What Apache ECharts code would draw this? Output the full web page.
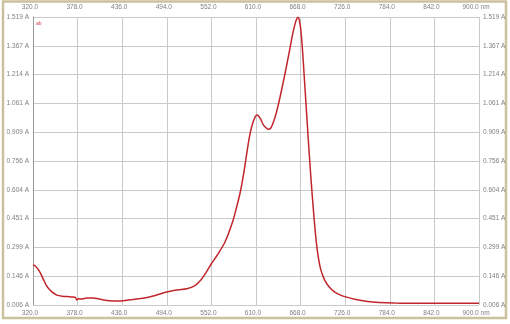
<!DOCTYPE html>
<html><head><meta charset="utf-8">
<script src="https://cdn.jsdelivr.net/npm/echarts@6/dist/echarts.min.js"></script>
<style>html,body{margin:0;padding:0;background:#fff}#c{width:510px;height:324px}</style>
</head><body><div id="c"></div>
<script>
const xLabels = ['320.0','378.0','436.0','494.0','552.0','610.0','668.0','726.0','784.0','842.0','900.0 nm'];
const yLabels = ['0.006 A','0.146 A','0.299 A','0.451 A','0.604 A','0.756 A','0.909 A','1.061 A','1.214 A','1.367 A','1.519 A'];
const wavelength = [320,323,327,330,334,337,340,345,351,358,365,372,375,377,379,383,390,398,405,412,420,430,440,450,460,470,480,490,500,510,520,530,538,545,552,560,570,580,585,590,594,597,600,603,606,609,611,613,616,619,623,626,629,632,636,641,646,650,654,658,661,663,664.5,666,668,670,672,675,678,681,684,687,690,694,699,705,712,720,728,740,755,770,790,810,830,850,870,900];
const absorbance = [0.205,0.200,0.180,0.160,0.125,0.100,0.082,0.062,0.046,0.040,0.038,0.036,0.034,0.020,0.026,0.025,0.031,0.031,0.026,0.020,0.016,0.014,0.017,0.022,0.028,0.035,0.045,0.058,0.068,0.074,0.080,0.095,0.125,0.165,0.212,0.260,0.330,0.440,0.515,0.600,0.690,0.770,0.850,0.915,0.960,0.990,1.000,0.996,0.978,0.952,0.932,0.925,0.930,0.955,1.005,1.090,1.185,1.265,1.350,1.435,1.485,1.510,1.518,1.508,1.460,1.370,1.250,1.060,0.870,0.690,0.530,0.385,0.275,0.185,0.128,0.090,0.063,0.046,0.035,0.022,0.012,0.007,0.004,0.003,0.003,0.003,0.003,0.003];
const xMin = 320, xMax = 900, yMin = -0.0066, yMax = 1.519;

const chart = echarts.init(document.getElementById('c'));
const lab = {fontSize: 6.5, color: '#808080', fontFamily: 'Liberation Sans'};
chart.setOption({
  animation: false,
  grid: {left: 33, right: 31, top: 17, bottom: 19},
  xAxis: [
    {type:'value', position:'bottom', min:0, max:10, interval:1,
     axisLine:{show:false}, axisTick:{show:false},
     splitLine:{show:true, lineStyle:{color:'#cacaca', width:1}},
     axisLabel:Object.assign({margin:5, padding:[0,6,0,0], formatter:(v)=>xLabels[Math.round(v)]}, lab)},
    {type:'value', position:'top', min:0, max:10, interval:1,
     axisLine:{show:false}, axisTick:{show:false}, splitLine:{show:false},
     axisLabel:Object.assign({margin:6, padding:[0,6,0,0], formatter:(v)=>xLabels[Math.round(v)]}, lab)},
    {type:'value', min:xMin, max:xMax, show:false}
  ],
  yAxis: [
    {type:'value', position:'left', min:0, max:10, interval:1,
     axisLine:{show:true, lineStyle:{color:'#9a9a9a'}}, axisTick:{show:false},
     splitLine:{show:true, lineStyle:{color:'#cacaca', width:1}},
     axisLabel:Object.assign({margin:4, formatter:(v)=>yLabels[Math.round(v)]}, lab)},
    {type:'value', position:'right', min:0, max:10, interval:1,
     axisLine:{show:false}, axisTick:{show:false}, splitLine:{show:false},
     axisLabel:Object.assign({margin:4, formatter:(v)=>yLabels[Math.round(v)]}, lab)},
    {type:'value', min:yMin, max:yMax, show:false}
  ],
  graphic: [
    {type:'rect', shape:{x:3, y:1.5, width:503, height:316.5}, style:{fill:'none', stroke:'#cbc19c', lineWidth:2.5}, silent:true},
    {type:'text', left:36, top:21, style:{text:'ab', fontSize:5, fill:'#d04050', fontFamily:'Liberation Sans'}}
  ],
  series: [{
    type:'line', xAxisIndex:2, yAxisIndex:2, smooth:0.25, showSymbol:false,
    lineStyle:{color:'#c0262c', width:1.5},
    data: wavelength.map((w,i)=>[w, absorbance[i]])
  }]
});
</script></body></html>
